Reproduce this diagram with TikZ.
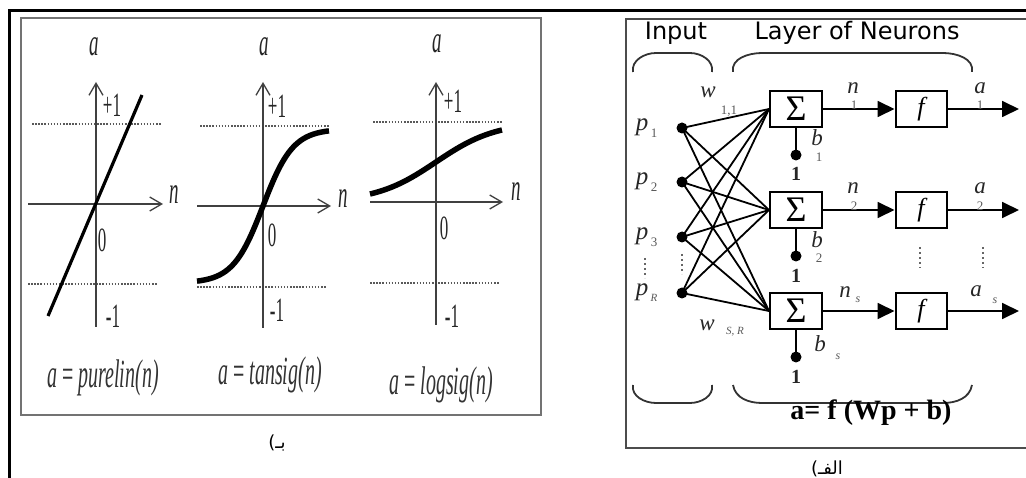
\documentclass[tikz,border=0pt]{standalone}
\usepackage{fontspec}
\setmainfont{Liberation Serif}
\newfontfamily\cnd[FakeStretch=0.5]{Liberation Serif}
\newfontfamily\hdrfont{DejaVu Sans}
\newfontfamily\arabicfont[Script=Arabic]{DejaVu Sans}
\TeXXeTstate=1
\usetikzlibrary{arrows.meta}
\newcommand{\fs}[1]{\fontsize{#1}{#1}\selectfont}
\tikzset{
  axisline/.style={line width=1.3pt, draw=black!75, -{Straight Barb[length=12pt,width=14pt,line width=1.3pt]}},
  dotline/.style={draw=black!65, line width=2pt, dash pattern=on 1.5pt off 1.6pt},
  curve/.style={line width=5.5pt},
  glbl/.style={font=\cnd\fs{38}, text=black!85, inner sep=0},
  gnum/.style={font=\cnd\fs{34}, text=black!85, inner sep=0},
  gform/.style={font=\cnd\fs{40}, text=black!80, inner sep=0},
  blockbox/.style={draw, line width=2pt, minimum width=52pt, minimum height=36pt, inner sep=0},
  wire/.style={line width=1.8pt},
  sigarrow/.style={line width=1.8pt, -{Triangle[length=17pt,width=16pt]}},
  indot/.style={circle, fill, inner sep=0, minimum size=11pt},
  rlbl/.style={font=\itshape\fs{23}, text=black!85, inner sep=0},
  rsub/.style={font=\fs{13}, text=black!65, inner sep=0},
  brace/.style={line width=1.8pt, draw=black!80},
  vdots/.style={line width=2.2pt, draw=black!60, dash pattern=on 2pt off 3pt}
}
\begin{document}
\begin{tikzpicture}[x=1pt,y=-1pt]
\useasboundingbox (0,0) rectangle (1026,478);
% outer frame
\draw[line width=3pt] (9,478) -- (9,11) -- (1026,11);
% left panel box
\draw[draw=black!55, line width=2pt] (21,18) rectangle (541,415);
% right panel box
\draw[draw=black!70, line width=2.4pt] (1026,19) -- (626,19) -- (626,448) -- (1026,448);

% ---------- graph 1: purelin ----------
\draw[dotline] (32,124) -- (162,124);
\draw[dotline] (28,284) -- (158,284);
\draw[axisline] (28,204) -- (163,204);
\draw[axisline] (96,327) -- (96,82);
\draw[line width=3.2pt] (48,316) -- (142,95);
\node[glbl] (ga1) at (94,47) {\itshape a};
\node[glbl] (gn1) at (174,195) {\itshape n};
\node[gnum] (gp1) at (112,105) {+1};
\node[gnum] (gz1) at (102,240) {0};
\node[gnum] (gm1) at (113,316) {-1};
\node[gform] (gf1) at (103,378) {\itshape a {\upshape =} purelin(n)};

% ---------- graph 2: tansig ----------
\draw[dotline] (200,126) -- (329,126);
\draw[dotline] (197,287) -- (326,287);
\draw[axisline] (197,206) -- (331,206);
\draw[axisline] (263,328) -- (263,82);
\draw[curve] plot[domain=-2.2:2.2, samples=60, variable=\t] ({263+30*\t},{206-77*tanh(\t)});
\node[glbl] (ga2) at (264,47) {\itshape a};
\node[glbl] (gn2) at (343,199) {\itshape n};
\node[gnum] (gp2) at (277,106) {+1};
\node[gnum] (gz2) at (272,235) {0};
\node[gnum] (gm2) at (277,310) {-1};
\node[gform] (gf2) at (270,375) {\itshape a {\upshape =} tansig(n)};

% ---------- graph 3: logsig ----------
\draw[dotline] (373,122) -- (502,122);
\draw[dotline] (370,283) -- (500,283);
\draw[axisline] (370,202) -- (503,202);
\draw[axisline] (436,325) -- (436,82);
\draw[curve] plot[domain=-2.2:2.2, samples=60, variable=\t] ({436+30*\t},{202-80/(1+exp(-\t))});
\node[glbl] (ga3) at (437,44) {\itshape a};
\node[glbl] (gn3) at (516,192) {\itshape n};
\node[gnum] (gp3) at (453,101) {+1};
\node[gnum] (gz3) at (444,228) {0};
\node[gnum] (gm3) at (452,316) {-1};
\node[gform] (gf3) at (441,385) {\itshape a {\upshape =} logsig(n)};

% caption left
\node[font=\fs{18}, inner sep=0] (capb) at (277,443) {{\hdrfont (}{\arabicfont\beginR بـ\endR}};

% ---------- right panel ----------
\node[font=\hdrfont\fs{24}, text=black, inner sep=0] (hin) at (676,33) {Input};
\node[font=\hdrfont\fs{24}, text=black, inner sep=0] (hlay) at (857,33) {Layer of Neurons};

% braces
\draw[brace] (633,72) to[out=100,in=180] (656,53) -- (690,53) to[out=0,in=80] (712,72);
\draw[brace] (733,72) to[out=100,in=180] (762,53) -- (943,53) to[out=0,in=80] (972,72);
\draw[brace] (633,385) to[out=-100,in=180] (656,403) -- (690,403) to[out=0,in=-80] (712,385);
\draw[brace] (733,385) to[out=-80,in=180] (762,403) -- (943,403) to[out=0,in=-100] (972,385);

% input dots
\node[indot] (p1) at (682,128) {};
\node[indot] (p2) at (682,182) {};
\node[indot] (p3) at (682,237) {};
\node[indot] (pR) at (682,293) {};
\node[rlbl, font=\itshape\fs{25}] (lp1) at (642,127) {p};
\node[rsub] (lp1s) at (654,133) {1};
\node[rlbl, font=\itshape\fs{25}] (lp2) at (642,181) {p};
\node[rsub] (lp2s) at (654,187) {2};
\node[rlbl, font=\itshape\fs{25}] (lp3) at (642,236) {p};
\node[rsub] (lp3s) at (654,242) {3};
\node[rlbl, font=\itshape\fs{25}] (lpR) at (642,292) {p};
\node[rsub, font=\itshape\fs{11}] (lpRs) at (654,298) {R};
\draw[vdots] (645,258) -- (645,278);
\draw[vdots] (682,254) -- (682,274);

% sum and f blocks
\node[blockbox] (s1) at (796,109) {\fs{36}Σ};
\node[blockbox] (s2) at (796,210) {\fs{36}Σ};
\node[blockbox] (s3) at (796,311) {\fs{36}Σ};
\node[blockbox, minimum width=51pt] (f1) at (921,109) {\itshape\fs{26}f};
\node[blockbox, minimum width=51pt] (f2) at (921,210) {\itshape\fs{26}f};
\node[blockbox, minimum width=51pt] (f3) at (921,311) {\itshape\fs{26}f};

% weights
\foreach \p in {p1,p2,p3,pR}{
  \foreach \s in {s1,s2,s3}{
    \draw[wire] (\p.center) -- (\s.west);
  }
}
\node[rlbl] (w11) at (708,92) {w};
\node[rsub] (w11s) at (729,111) {1,1};
\node[rlbl] (wSR) at (707,325) {w};
\node[rsub, font=\itshape\fs{11}] (wSRs) at (735,332) {S, R};

% biases
\node[indot] (b1d) at (796,155) {};
\node[indot] (b2d) at (796,256) {};
\node[indot] (b3d) at (796,357) {};
\draw[wire] (s1.south) -- (b1d.center);
\draw[wire] (s2.south) -- (b2d.center);
\draw[wire] (s3.south) -- (b3d.center);
\node[font=\bfseries\fs{20}, text=black!85, inner sep=0] (one1) at (796,174) {1};
\node[font=\bfseries\fs{20}, text=black!85, inner sep=0] (one2) at (796,276) {1};
\node[font=\bfseries\fs{20}, text=black!85, inner sep=0] (one3) at (796,377) {1};
\node[rlbl] (lb1) at (817,138) {b};
\node[rsub] (lb1s) at (819,157) {1};
\node[rlbl] (lb2) at (817,240) {b};
\node[rsub] (lb2s) at (819,258) {2};
\node[rlbl] (lb3) at (820,344) {b};
\node[rsub, font=\itshape\fs{12}] (lb3s) at (838,357) {s};

% signals
\draw[sigarrow] (s1.east) -- (f1.west);
\draw[sigarrow] (s2.east) -- (f2.west);
\draw[sigarrow] (s3.east) -- (f3.west);
\coordinate (o1) at (1019,109);
\coordinate (o2) at (1019,210);
\coordinate (o3) at (1019,311);
\draw[sigarrow] (f1.east) -- (o1);
\draw[sigarrow] (f2.east) -- (o2);
\draw[sigarrow] (f3.east) -- (o3);
\node[rlbl] (ln1) at (853,88) {n};
\node[rsub] (ln1s) at (854,105) {1};
\node[rlbl] (ln2) at (853,188) {n};
\node[rsub] (ln2s) at (854,206) {2};
\node[rlbl] (ln3) at (845,292) {n};
\node[rsub, font=\itshape\fs{12}] (ln3s) at (858,300) {s};
\node[rlbl] (la1) at (980,88) {a};
\node[rsub] (la1s) at (980,105) {1};
\node[rlbl] (la2) at (980,188) {a};
\node[rsub] (la2s) at (980,206) {2};
\node[rlbl] (la3) at (976,291) {a};
\node[rsub, font=\itshape\fs{12}] (la3s) at (995,301) {s};
\draw[vdots] (920,247) -- (920,268);
\draw[vdots] (983,247) -- (983,268);

\node[font=\bfseries\fs{28}, inner sep=0] (eq) at (871,413) {a= f (Wp + b)};

% caption right
\node[font=\fs{18}, inner sep=0] (capa) at (827,469) {{\hdrfont (}{\arabicfont\beginR الفـ\endR}};
\end{tikzpicture}
\end{document}
